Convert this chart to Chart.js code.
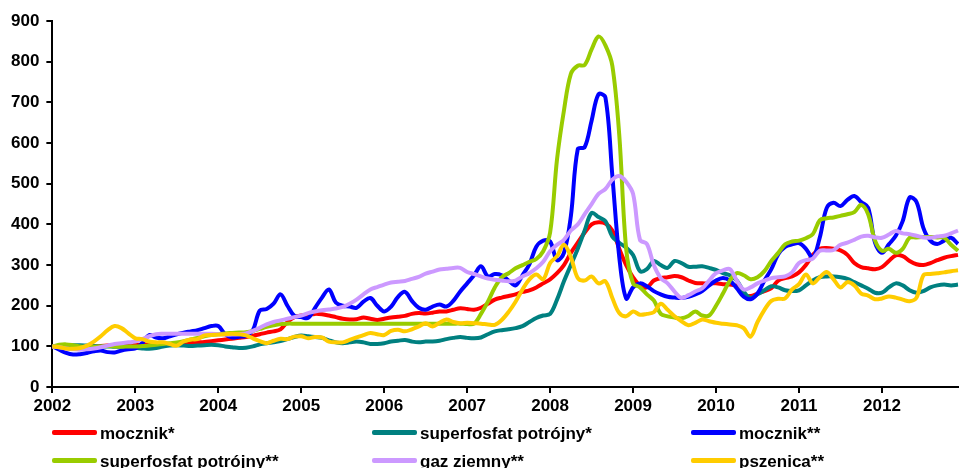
<!DOCTYPE html>
<html>
<head>
<meta charset="utf-8">
<script src="https://cdn.jsdelivr.net/npm/chart.js@4"></script>
<style>
  body { margin: 0; background: #fff; }
  #wrap { position: relative; width: 959px; height: 468px; overflow: hidden; }
  .leg { position: absolute; font: bold 17px "Liberation Sans", Arial, sans-serif; color: #000; white-space: nowrap; line-height: 20px; }
  .leg i { display: inline-block; width: 45px; height: 5px; border-radius: 2px; vertical-align: middle; margin-right: 3px; position: relative; top: -2px; }
</style>
</head>
<body>
<div id="wrap">
  <canvas id="prices"></canvas>
  <div id="legend"></div>
</div>
<script>
const years = [ 2002, 2003, 2004, 2005, 2006, 2007, 2008, 2009, 2010, 2011, 2012 ]
const seriesNames = [ 'mocznik*', 'superfosfat potrójny*', 'mocznik**', 'superfosfat potrójny**', 'gaz ziemny**', 'pszenica**' ]
const seriesColors = [ '#ff0000', '#008080', '#0000ff', '#99cc00', '#cc99ff', '#ffcc00' ]

// monthly index values, Jan 2002 = 100
const urea1 = [
  100, 99, 98, 97, 98, 99, 100, 101, 102, 103, 104, 105,
  104, 104, 105, 105, 106, 106, 107, 108, 109, 110, 111, 113,
  115, 117, 119, 121, 123, 126, 130, 134, 137, 142, 160, 172,
  176, 178, 180, 179, 176, 172, 168, 166, 167, 171, 168, 165,
  168, 171, 173, 175, 180, 182, 181, 183, 186, 186, 190, 194,
  192, 190, 195, 205, 215, 220, 224, 228, 234, 238, 245, 255,
  265, 280, 300, 330, 355, 380, 400, 405, 402, 385, 340, 300,
  270, 250, 245, 262, 268, 270, 273, 270, 262, 256, 255, 255,
  255, 253, 252, 248, 225, 224, 230, 236, 243, 262, 268, 272,
  282, 300, 325, 340, 342, 340, 336, 325, 305, 295, 292, 290,
  295, 310, 324, 322, 310, 302, 300, 305, 312, 318, 322, 325
]
const superphosphate1 = [
  100, 101, 102, 103, 103, 102, 101, 100, 100, 99, 99, 99,
  97, 95, 94, 96, 100, 102, 103, 102, 101, 102, 103, 104,
  103, 100, 98, 96, 97, 100, 105, 108, 110, 113, 118, 123,
  127, 125, 123, 121, 115, 110, 108, 110, 112, 110, 106, 106,
  108, 112, 114, 116, 112, 110, 112, 112, 114, 118, 121, 123,
  121, 120, 122, 130, 137, 140, 142, 145, 150, 160, 170, 176,
  180, 215, 260, 300, 340, 385, 428, 418, 408, 370, 355, 343,
  325, 285, 290, 310, 300, 293, 310, 305, 296, 296, 297, 293,
  288, 280, 275, 262, 235, 219, 228, 238, 248, 245, 238, 236,
  238, 250, 262, 270, 272, 272, 270, 266, 258, 250, 242, 232,
  232, 245, 255, 250, 238, 232, 236, 245, 250, 252, 250, 252
]
const urea2 = [
  100, 92, 84, 80, 81, 84, 88, 90, 86, 85, 90, 93,
  95, 108, 128, 122, 120, 125, 130, 134, 137, 140, 145, 150,
  150, 130, 122, 124, 126, 140, 188, 192, 205, 228, 200, 175,
  172, 170, 195, 220, 240, 208, 200, 198, 195, 210, 219, 200,
  186, 198, 222, 234, 212, 195, 190, 198, 203, 198, 212, 235,
  255, 275, 297, 272, 278, 275, 262, 250, 275, 302, 345, 360,
  358, 312, 330, 420, 585, 590, 655, 720, 712, 520, 320, 218,
  245, 255, 248, 236, 228, 222, 220, 219, 222, 228, 236, 250,
  262, 268, 262, 243, 222, 216, 230, 262, 290, 327, 345, 351,
  354, 340, 318, 367, 440, 453, 445, 460, 470, 455, 441, 355,
  330, 351, 372, 408, 466, 455, 391, 360, 352, 360, 367, 352
]
const superphosphate2 = [
  100, 104, 105, 103, 100, 99, 99, 100, 101, 100, 99, 100,
  100, 101, 102, 104, 106, 108, 110, 113, 117, 121, 125, 128,
  130, 132, 133, 134, 135, 138, 143, 148, 152, 155, 156, 156,
  156, 156, 156, 156, 156, 156, 156, 156, 156, 156, 156, 156,
  156, 156, 156, 156, 156, 156, 156, 156, 156, 156, 156, 156,
  155, 156, 180, 210, 245, 270, 280, 292, 300, 308, 315, 334,
  380, 560, 680, 770, 790, 792, 830, 862, 840, 790, 620, 340,
  255, 245, 228, 213, 180, 174, 171, 169, 175, 186, 176, 176,
  200, 230, 262, 280, 275, 265, 270, 285, 310, 330, 351, 358,
  360, 366, 376, 410, 415, 417, 421, 425, 430, 448, 425, 360,
  335, 340, 330, 340, 367, 368, 369, 369, 368, 367, 350, 335
]
const naturalGas = [
  100, 98, 95, 93, 92, 93, 95, 98, 102, 106, 108, 110,
  112, 118, 125, 130, 131, 131, 131, 131, 131, 131, 131, 131,
  130, 129, 129, 130, 132, 138, 146, 154, 160, 164, 168, 172,
  176, 182, 186, 189, 191, 193, 197, 205, 215, 228, 240, 246,
  252, 257, 259, 261, 266, 271, 279, 284, 289, 291, 293, 293,
  283, 278, 272, 267, 264, 262, 260, 262, 272, 280, 292, 308,
  334, 350, 362, 385, 400, 425, 450, 475, 487, 510, 519, 505,
  475, 362, 352, 300, 268, 255, 235, 219, 226, 235, 243, 262,
  280, 287, 290, 262, 240, 245, 255, 262, 268, 270, 272, 282,
  305, 312, 316, 335, 336, 337, 350, 355, 362, 370, 372, 368,
  367, 375, 384, 378, 376, 372, 368, 367, 370, 372, 378, 385
]
const wheat = [
  100, 98, 95, 94, 96, 102, 112, 125, 140, 150, 145, 132,
  120, 118, 112, 110, 110, 106, 102, 112, 117, 118, 127, 128,
  129, 130, 131, 130, 127, 120, 113, 108, 114, 119, 118, 124,
  125, 120, 123, 122, 112, 110, 110, 116, 122, 128, 133, 130,
  128, 138, 141, 137, 142, 149, 157, 149, 158, 166, 160, 157,
  158, 157, 156, 154, 153, 165, 185, 210, 240, 265, 277, 265,
  305, 322, 350, 320, 268, 262, 272, 255, 260, 219, 182, 174,
  186, 178, 180, 184, 205, 190, 174, 162, 152, 158, 166, 162,
  158, 156, 154, 152, 145, 124, 160, 190, 212, 217, 218, 240,
  253, 277, 255, 270, 283, 265, 245, 258, 250, 230, 225, 216,
  218, 223, 220, 215, 211, 220, 275, 278, 280, 282, 285, 287
]

const allSeries = [ urea1, superphosphate1, urea2, superphosphate2, naturalGas, wheat ]
const labels = years.flatMap( y => Array.from( { length: 12 }, ( _, m ) => y + '-' + ( m + 1 ) ) )

const font = { family: '"Liberation Sans", Arial, sans-serif', size: 17, weight: 'bold' }

const data = {
  labels: labels,
  datasets: allSeries.map( ( values, i ) => ( {
    label: seriesNames[ i ],
    data: values,
    borderColor: seriesColors[ i ],
    backgroundColor: seriesColors[ i ],
    borderWidth: 4,
    pointRadius: 0,
    tension: 0.35,
    fill: false,
    order: allSeries.length - i
  } ) )
}

const config = {
  type: 'line',
  data: data,
  options: {
    responsive: true,
    maintainAspectRatio: false,
    animation: false,
    layout: { padding: { left: 4, right: 1, top: 21, bottom: 48.5 } },
    plugins: { legend: { display: false }, tooltip: { enabled: false } },
    scales: {
      x: {
        offset: false,
        border: { color: '#000', width: 2 },
        grid: { display: true, drawOnChartArea: false, drawTicks: true, tickLength: 6, color: '#000', lineWidth: 2 },
        ticks: {
          autoSkip: false,
          maxRotation: 0,
          color: '#000',
          font: font,
          padding: 3,
          callback: ( v, i ) => i % 12 === 0 ? String( years[ i / 12 ] ) : null
        }
      },
      y: {
        min: 0,
        max: 900,
        border: { color: '#000', width: 2 },
        grid: { display: true, drawOnChartArea: false, drawTicks: true, tickLength: 6, color: '#000', lineWidth: 2 },
        ticks: { stepSize: 100, color: '#000', font: font, padding: 7 }
      }
    }
  }
}

const graph = new Chart( document.getElementById( 'prices' ), config )

// legend in three columns, like the original
const legendNode = document.getElementById( 'legend' )
const legendX = [ 52, 372, 691 ]
const legendY = [ 424, 452 ]
seriesNames.forEach( ( name, i ) => {
  const item = document.createElement( 'div' )
  item.className = 'leg'
  item.style.left = legendX[ i % 3 ] + 'px'
  item.style.top = legendY[ Math.floor( i / 3 ) ] + 'px'
  item.innerHTML = '<i style="background:' + seriesColors[ i ] + '"></i>' + name
  legendNode.appendChild( item )
} )
</script>
</body>
</html>
